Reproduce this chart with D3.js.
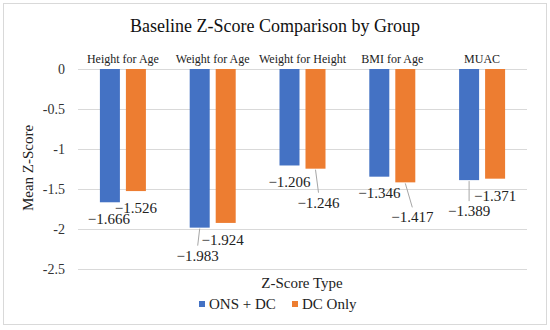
<!DOCTYPE html>
<html><head><meta charset="utf-8">
<script src="https://cdn.jsdelivr.net/npm/d3@7"></script>
<style>
html,body{margin:0;padding:0;background:#fff;}
svg{display:block;font-family:"Liberation Serif","Times New Roman",serif;}
</style></head>
<body><svg id="c" width="550" height="330"></svg>
<script>
const categories = ["Height for Age","Weight for Age","Weight for Height","BMI for Age","MUAC"];
const seriesNames = ["ONS + DC","DC Only"];
const onsDc = [-1.666,-1.983,-1.206,-1.346,-1.389];
const dcOnly = [-1.526,-1.924,-1.246,-1.417,-1.371];
const yTicks = [0,-0.5,-1,-1.5,-2,-2.5];
const colors = ["#4472C4","#ED7D31"];
// manual label placement (px offsets from bar end): [dx, dy, leader]
const labelPlace = [
  [[-1,17,false],[0,17,false]],
  [[-2,28,true],[-3,17,false]],
  [[0,17,false],[3,34,true]],
  [[0,16,false],[7,35,true]],
  [[0,31,true],[0,17,false]]
];

const svg = d3.select("#c");
svg.append("rect").attr("x",3.5).attr("y",3.5).attr("width",543).attr("height",321)
  .attr("fill","#fff").attr("stroke","#d9d9d9");

const x = d3.scaleBand().domain(categories).range([78,527]).padding(0);
const xs = d3.scaleBand().domain(seriesNames).range([x.bandwidth()/2-23, x.bandwidth()/2+23]).paddingInner(6/26);
const y = d3.scaleLinear().domain([-2.5,0]).range([269,69]);

// gridlines
svg.append("g").selectAll("line").data(yTicks).join("line")
  .attr("x1",78).attr("x2",527)
  .attr("y1",d=>Math.round(y(d))+0.5).attr("y2",d=>Math.round(y(d))+0.5)
  .attr("stroke","#d9d9d9").attr("stroke-width",1);

// y tick labels
svg.append("g").selectAll("text").data(yTicks).join("text")
  .attr("x",65).attr("y",d=>y(d)+5)
  .attr("text-anchor","end").attr("font-size",14).attr("fill","#333")
  .text(d=>d===0?"0":String(d));

// title
svg.append("text").attr("x",275).attr("y",32).attr("text-anchor","middle")
  .attr("font-size",18).attr("fill","#111").text("Baseline Z-Score Comparison by Group");

// category labels at top
svg.append("g").selectAll("text").data(categories).join("text")
  .attr("x",d=>x(d)+x.bandwidth()/2).attr("y",63)
  .attr("text-anchor","middle").attr("font-size",12).attr("fill","#222").text(d=>d);

// y axis title
svg.append("text").attr("transform","translate(33,168) rotate(-90)")
  .attr("text-anchor","middle").attr("font-size",15).attr("fill","#222").text("Mean Z-Score");

// x axis title
svg.append("text").attr("x",302).attr("y",288).attr("text-anchor","middle")
  .attr("font-size",15).attr("fill","#222").text("Z-Score Type");

const seriesVals = [onsDc, dcOnly];
const gBars = svg.append("g");
seriesNames.forEach((s,si)=>{
  gBars.selectAll("rect.s"+si).data(categories).join("rect")
    .attr("class","s"+si)
    .attr("x",(c)=>x(c)+xs(s))
    .attr("width",xs.bandwidth())
    .attr("y",y(0))
    .attr("height",(c,i)=>y(seriesVals[si][i])-y(0))
    .attr("fill",colors[si]);
});

const fmt = v => "\u2212" + Math.abs(v).toFixed(3);
const gLab = svg.append("g");
seriesNames.forEach((s,si)=>{
  categories.forEach((c,i)=>{
    const v = seriesVals[si][i];
    const bx = x(c)+xs(s)+xs.bandwidth()/2;
    const by = y(v);
    const [dx,dy,leader] = labelPlace[i][si];
    const lx = bx+dx, ly = by+dy;
    if(leader){
      gLab.append("line").attr("x1",bx-(dx>0?0:0)).attr("y1",by+1)
        .attr("x2",lx).attr("y2",ly-10)
        .attr("stroke","#a6a6a6").attr("stroke-width",1);
    }
    gLab.append("text").attr("x",lx).attr("y",ly+5)
      .attr("text-anchor","middle").attr("font-size",15).attr("fill","#222")
      .text(fmt(v));
  });
});

// legend
const leg = svg.append("g");
const legX = [199,292];
seriesNames.forEach((s,si)=>{
  leg.append("rect").attr("x",legX[si]).attr("y",301).attr("width",6).attr("height",6).attr("fill",colors[si]);
  leg.append("text").attr("x",legX[si]+10).attr("y",309).attr("font-size",15).attr("fill","#222").text(s);
});
</script></body></html>
